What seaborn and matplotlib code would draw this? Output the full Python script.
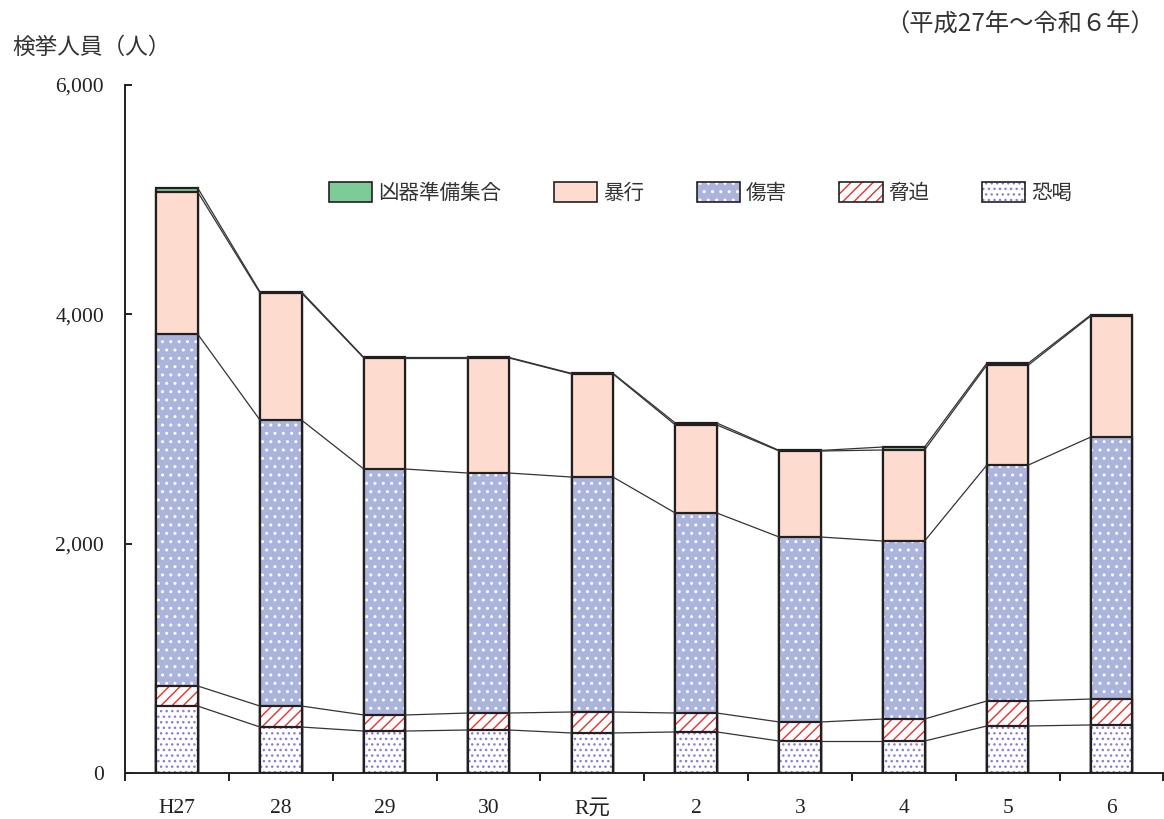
import matplotlib
matplotlib.use("Agg")
import matplotlib.pyplot as plt
import seaborn as sns
import numpy as np
from matplotlib.patches import Patch
from matplotlib.legend_handler import HandlerTuple

# ---- data ----
categories = ["H27", "28", "29", "30", "R元", "2", "3", "4", "5", "6"]
kyokatsu = [584, 401, 366, 375, 349, 358, 279, 279, 410, 419]      # 恐喝
kyouhaku = [175, 183, 140, 148, 183, 165, 166, 192, 218, 226]      # 脅迫
shougai = [3069, 2494, 2145, 2093, 2049, 1744, 1613, 1552, 2058, 2285]  # 傷害
boukou = [1239, 1108, 968, 1003, 899, 768, 750, 794, 872, 1055]    # 暴行
kyouki = [35, 10, 5, 5, 5, 17, 5, 26, 17, 9]                      # 凶器準備集合
series_names = ["恐喝", "脅迫", "傷害", "暴行", "凶器準備集合"]
y_ticks = [0, 2000, 4000, 6000]

sns.set_theme(style="white")
plt.rcParams["font.family"] = ["Noto Sans CJK JP", "DejaVu Sans"]
plt.rcParams["hatch.linewidth"] = 1.0

JP = ["Noto Sans CJK JP", "DejaVu Sans"]
NUM = ["Liberation Serif", "Noto Sans CJK JP"]

# styles: (face, hatch, hatchcolor)
styles = {
    "恐喝": ("#ffffff", "...", "#8a7fd0"),
    "脅迫": ("#ffffff", "///", "#e8302c"),
    "傷害": ("#aab4dc", "..", "#ffffff"),
    "暴行": ("#fddccf", None, None),
    "凶器準備集合": ("#7ccb98", None, None),
}
outline = "#231f20"

fig = plt.figure(figsize=(11.64, 8.19), dpi=100)
ax = fig.add_axes([125 / 1164, 1 - 773 / 819, 1 - 125 / 1164 - 0.0005, (773 - 85) / 819])

data = [kyokatsu, kyouhaku, shougai, boukou, kyouki]
cum = np.cumsum(np.array(data, dtype=float), axis=0)

# draw from top level down so lower segments overlay
for k in range(len(data) - 1, -1, -1):
    name = series_names[k]
    face, hatch, hcol = styles[name]
    sns.barplot(x=categories, y=list(cum[k]), order=categories, width=0.4,
                saturation=1, color=face, errorbar=None, ax=ax)
    cont = ax.containers[-1]
    for p in cont.patches:
        p.set_facecolor(face)
        p.set_linewidth(0)
        if hatch:
            p.set_hatch(hatch)
            p.set_edgecolor(hcol)
        else:
            p.set_edgecolor(face)
    sns.barplot(x=categories, y=list(cum[k]), order=categories, width=0.4,
                saturation=1, color=face, errorbar=None, ax=ax)
    cont = ax.containers[-1]
    for p in cont.patches:
        p.set_facecolor("none")
        p.set_edgecolor(outline)
        p.set_linewidth(1.6)
        p.set_hatch(None)

# connecting lines
n = len(categories)
for k in range(len(data)):
    for i in range(n - 1):
        ax.plot([i + 0.2, i + 0.8], [cum[k][i], cum[k][i + 1]],
                color="#333333", lw=0.9, zorder=1)

ax.set_xlim(-0.5, n - 0.5)
ax.set_ylim(0, 6000)
ax.set_xlabel("")
ax.set_ylabel("")

# x ticks: boundaries as major ticks, labels at centres via minor ticks
ax.set_xticks(np.arange(-0.5, n, 1.0))
ax.set_xticklabels([])
ax.set_xticks(np.arange(n), minor=True)
ax.set_xticklabels(categories, minor=True, family=NUM, fontsize=15.5, color="#222222")
ax.tick_params(axis="x", which="major", direction="out", length=6, width=1.4,
               color=outline, bottom=True)
ax.tick_params(axis="x", which="minor", length=0, pad=19, bottom=True)

ax.set_yticks(y_ticks)
ax.set_yticklabels([f"{v:,}" for v in y_ticks], family=NUM, fontsize=15.5, color="#222222")
ax.tick_params(axis="y", direction="in", length=5, width=1.4, color=outline,
               left=True, pad=15)

for s in ["top", "right"]:
    ax.spines[s].set_visible(False)
for s in ["left", "bottom"]:
    ax.spines[s].set_color(outline)
    ax.spines[s].set_linewidth(1.4)
ax.grid(False)

# legend
order = ["凶器準備集合", "暴行", "傷害", "脅迫", "恐喝"]
handles = []
for name in order:
    face, hatch, hcol = styles[name]
    fill = Patch(facecolor=face, edgecolor=hcol if hatch else face,
                 hatch=hatch, linewidth=0)
    edge = Patch(facecolor="none", edgecolor=outline, linewidth=1.2)
    handles.append((fill, edge))
leg = ax.legend(handles, order, handler_map={tuple: HandlerTuple(ndivide=1)},
                loc="center", bbox_to_anchor=(0.5545, 0.843), ncol=5, frameon=False,
                prop={"family": JP, "size": 14.8}, handlelength=2.1, handleheight=1.15,
                handletextpad=0.3, columnspacing=2.55)
for t in leg.get_texts():
    t.set_color("#333333")

fig.text(12 / 1164, 1 - 47 / 819, "検挙人員（人）", family=JP, fontsize=16.3,
         va="center", ha="left", color="#333333")
fig.text(1155 / 1164, 1 - 25 / 819, "（平成27年～令和６年）", family=JP, fontsize=17.5,
         va="center", ha="right", color="#333333")

fig.savefig("out.png", dpi=100)
